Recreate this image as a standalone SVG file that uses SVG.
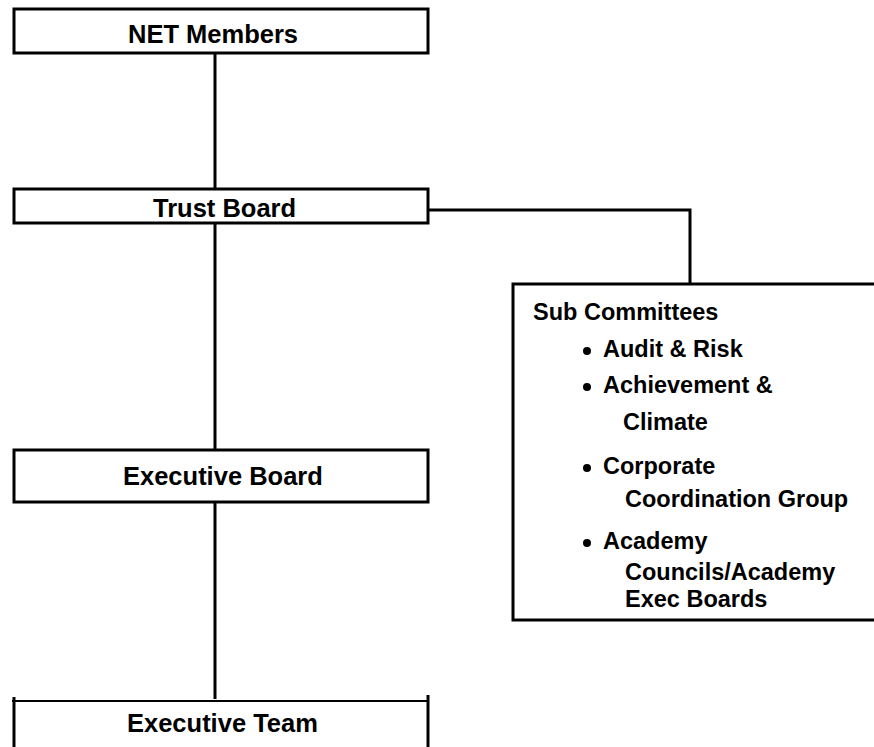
<svg xmlns="http://www.w3.org/2000/svg" width="874" height="747" viewBox="0 0 874 747">
  <style>
    .box { fill: #ffffff; stroke: #000000; stroke-width: 3; }
    .edge { fill: none; stroke: #000000; stroke-width: 3; }
    .label { font-family: "Liberation Sans", Arial, sans-serif; font-weight: bold; font-size: 25.5px; fill: #000000; }
    .item { font-family: "Liberation Sans", Arial, sans-serif; font-weight: bold; font-size: 23.5px; fill: #000000; }
    .dot { fill: #000000; }
  </style>
  <rect width="874" height="747" fill="#ffffff"/>

  <!-- connectors -->
  <g id="connectors">
    <line class="edge" x1="215" y1="53" x2="215" y2="189"/>
    <line class="edge" x1="215" y1="223" x2="215" y2="450"/>
    <line class="edge" x1="215" y1="502" x2="215" y2="699"/>
    <path class="edge" d="M428 210 H690 V284"/>
  </g>

  <g id="net-members">
    <rect class="box" x="14" y="9" width="414" height="44"/>
    <text class="label" x="128" y="43">NET Members</text>
  </g>

  <g id="trust-board">
    <rect class="box" x="14" y="189" width="414" height="34"/>
    <text class="label" x="153" y="217">Trust Board</text>
  </g>

  <g id="executive-board">
    <rect class="box" x="14" y="450" width="414" height="52"/>
    <text class="label" x="123" y="485">Executive Board</text>
  </g>

  <g id="executive-team">
    <line x1="12" y1="701" x2="428" y2="701" stroke="#000" stroke-width="2"/>
    <line class="edge" x1="14" y1="697" x2="14" y2="747"/>
    <line class="edge" x1="428" y1="695" x2="428" y2="747"/>
    <text class="label" x="127" y="732">Executive Team</text>
  </g>

  <g id="sub-committees">
    <rect class="box" x="513" y="284" width="420" height="336"/>
    <text class="item" x="533" y="320">Sub Committees</text>
    <circle class="dot" cx="587" cy="351" r="4"/>
    <text class="item" x="603" y="357">Audit &amp; Risk</text>
    <circle class="dot" cx="587" cy="387" r="4"/>
    <text class="item" x="603" y="393">Achievement &amp;</text>
    <text class="item" x="623" y="430">Climate</text>
    <circle class="dot" cx="587" cy="468" r="4"/>
    <text class="item" x="603" y="474">Corporate</text>
    <text class="item" x="625" y="507">Coordination Group</text>
    <circle class="dot" cx="587" cy="543" r="4"/>
    <text class="item" x="603" y="549">Academy</text>
    <text class="item" x="625" y="580">Councils/Academy</text>
    <text class="item" x="625" y="607">Exec Boards</text>
  </g>
</svg>
